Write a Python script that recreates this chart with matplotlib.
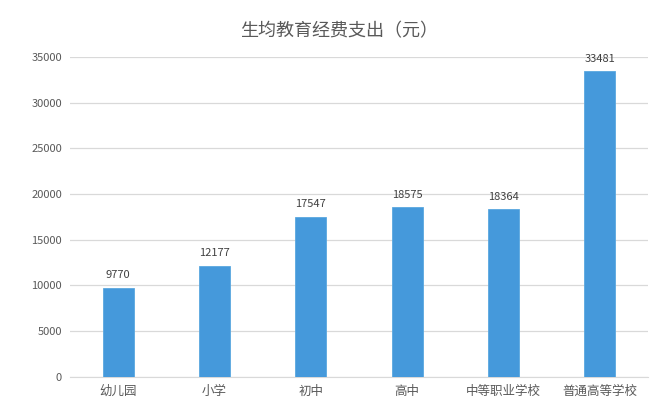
import numpy as np
from matplotlib import pyplot as plt

plt.rcParams['font.family'] = ['Noto Sans CJK SC', 'DejaVu Sans']

categories = ["幼儿园", "小学", "初中", "高中", "中等职业学校", "普通高等学校"]
values = [9770, 12177, 17547, 18575, 18364, 33481]
yticks = [0, 5000, 10000, 15000, 20000, 25000, 30000, 35000]

text_color = "#595959"
bar_color = "#4599db"

fig = plt.figure(figsize=(6.68, 4.07), dpi=100)
ax = fig.add_axes([0.105, 0.074, 0.865, 0.786])

ind = np.arange(len(categories))
bars = ax.bar(ind, values, width=0.32, color=bar_color, edgecolor="#5aa8e0", linewidth=0.6, zorder=3)

for i, v in enumerate(values):
    ax.text(i, v + 800, str(v), ha="center", va="bottom", fontsize=8, color="#404040")

ax.set_xlim(-0.5, len(categories) - 0.5)
ax.set_ylim(0, 35000)
ax.set_yticks(yticks)
ax.set_yticklabels([str(t) for t in yticks], fontsize=8, color=text_color)
ax.set_xticks(ind)
ax.set_xticklabels(categories, fontsize=9, color=text_color)
ax.tick_params(axis="both", length=0, pad=6)
ax.yaxis.grid(True, color="#d9d9d9", linewidth=0.9, zorder=0)
for s in ["top", "right", "left"]:
    ax.spines[s].set_visible(False)
ax.spines["bottom"].set_color("#d9d9d9")

fig.text(0.508, 0.922, "生均教育经费支出（元）", ha="center", va="center", fontsize=13, color=text_color)

fig.savefig("out.png", dpi=100)
